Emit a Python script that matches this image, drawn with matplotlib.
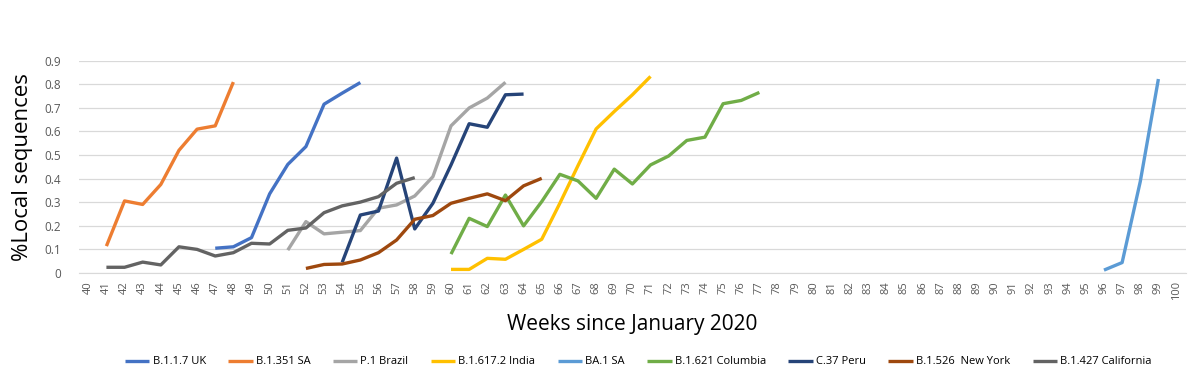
import matplotlib.pyplot as plt

plt.rcParams['font.family'] = ['Open Sans', 'DejaVu Sans']

weeks_all = list(range(40, 101))

uk_weeks = list(range(47, 56))
uk = [0.104, 0.11, 0.149, 0.335, 0.46, 0.536, 0.716, 0.763, 0.808]

sa_weeks = list(range(41, 49))
sa = [0.113, 0.305, 0.29, 0.375, 0.52, 0.61, 0.624, 0.81]

brazil_weeks = list(range(51, 64))
brazil = [0.096, 0.217, 0.165, 0.172, 0.179, 0.274, 0.288, 0.326, 0.408, 0.624, 0.70, 0.742, 0.809]

india_weeks = list(range(60, 72))
india = [0.014, 0.014, 0.061, 0.057, 0.099, 0.142, 0.295, 0.455, 0.611, 0.685, 0.756, 0.834]

ba1_weeks = list(range(96, 100))
ba1 = [0.011, 0.043, 0.387, 0.823]

colombia_weeks = list(range(60, 78))
colombia = [0.079, 0.231, 0.196, 0.33, 0.199, 0.302, 0.418, 0.39, 0.316, 0.44,
            0.377, 0.458, 0.496, 0.562, 0.576, 0.718, 0.732, 0.766]

peru_weeks = list(range(54, 65))
peru = [0.044, 0.245, 0.262, 0.487, 0.186, 0.295, 0.458, 0.633, 0.618, 0.756, 0.759]

ny_weeks = list(range(52, 66))
ny = [0.018, 0.035, 0.037, 0.054, 0.085, 0.139, 0.227, 0.243, 0.295, 0.316,
      0.335, 0.306, 0.369, 0.401]

cal_weeks = list(range(41, 59))
cal = [0.023, 0.023, 0.045, 0.033, 0.11, 0.099, 0.071, 0.085, 0.125, 0.122,
       0.18, 0.19, 0.255, 0.284, 0.30, 0.323, 0.38, 0.404]

series = [
    ("B.1.1.7 UK", uk_weeks, uk, "#4472C4"),
    ("B.1.351 SA", sa_weeks, sa, "#ED7D31"),
    ("P.1 Brazil", brazil_weeks, brazil, "#A5A5A5"),
    ("B.1.617.2 India", india_weeks, india, "#FFC000"),
    ("BA.1 SA", ba1_weeks, ba1, "#5B9BD5"),
    ("B.1.621 Columbia", colombia_weeks, colombia, "#70AD47"),
    ("C.37 Peru", peru_weeks, peru, "#264478"),
    ("B.1.526  New York", ny_weeks, ny, "#9E480E"),
    ("B.1.427 California", cal_weeks, cal, "#636363"),
]

fig = plt.figure(figsize=(12, 3.83), dpi=100)
ax = fig.add_axes([0.066, 0.288, 0.922, 0.553])

for name, w, v, c in series:
    ax.plot(w, v, color=c, lw=2.4, label=name, solid_capstyle='butt')

ax.set_xlim(39.5, 100.5)
ax.set_ylim(0, 0.9)
ax.set_xticks(weeks_all)
ax.set_xticklabels([str(w) for w in weeks_all], rotation=90, fontsize=8, color='#595959')
ax.set_yticks([i / 10 for i in range(10)])
ax.set_yticklabels(['0'] + ['0.%d' % i for i in range(1, 10)], fontsize=8.5, color='#595959')
ax.tick_params(axis='x', length=0, pad=6)
ax.tick_params(axis='y', length=0, pad=13)
ax.yaxis.grid(True, color='#D9D9D9', lw=0.9)
ax.set_axisbelow(True)
for s in ['top', 'right', 'left']:
    ax.spines[s].set_visible(False)
ax.spines['bottom'].set_color('#D9D9D9')

ax.set_ylabel('%Local sequences', fontsize=16, color='black', labelpad=8)
ax.set_xlabel('Weeks since January 2020', fontsize=15, color='black', labelpad=10)

fig.legend(loc='center', bbox_to_anchor=(0.532, 0.055), ncol=9, frameon=False,
           fontsize=8, handlelength=2.2, columnspacing=2.0, handletextpad=0.3)

fig.savefig('out.png', dpi=100)
